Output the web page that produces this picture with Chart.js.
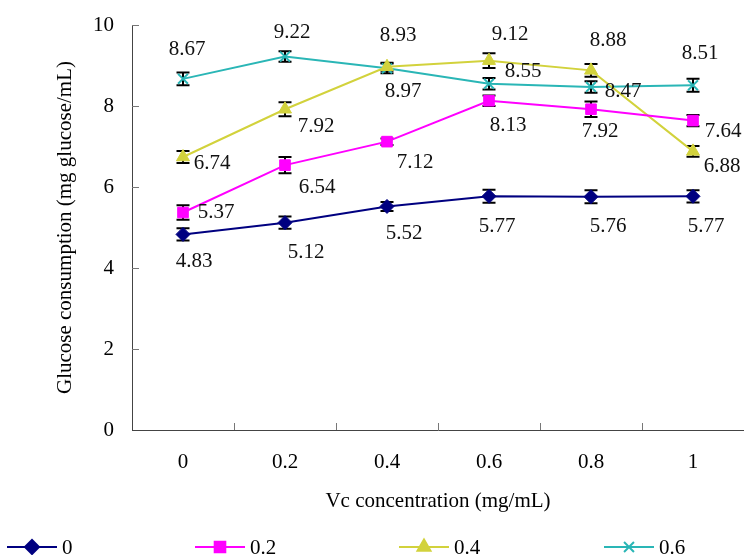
<!DOCTYPE html>
<html lang="en">
<head>
    <meta charset="UTF-8">
    <title>Glucose consumption vs Vc concentration</title>
    <script src="https://cdn.jsdelivr.net/npm/chart.js"></script>
    <style>
        body { margin: 0; background: #fff; }
        #wrap { width: 744px; height: 555px; }
    </style>
</head>
<body>
    <div id="wrap"><canvas id="glucoseChart" width="744" height="555"></canvas></div>

    <script>
        // Datos
        const categories = ['0', '0.2', '0.4', '0.6', '0.8', '1'];
        const seriesNames = ['0', '0.2', '0.4', '0.6'];

        const glucose0  = [4.83, 5.12, 5.52, 5.77, 5.76, 5.77];
        const glucose02 = [5.37, 6.54, 7.12, 8.13, 7.92, 7.64];
        const glucose04 = [6.74, 7.92, 8.97, 9.12, 8.88, 6.88];
        const glucose06 = [8.67, 9.22, 8.93, 8.55, 8.47, 8.51];

        // barras de error (+/-)
        const err0  = [0.15, 0.15, 0.11, 0.16, 0.16, 0.15];
        const err02 = [0.18, 0.20, 0.08, 0.13, 0.19, 0.14];
        const err04 = [0.15, 0.17, 0.10, 0.18, 0.16, 0.13];
        const err06 = [0.16, 0.13, 0.12, 0.14, 0.14, 0.16];

        const yMin = 0, yMax = 10, yStep = 2;

        // desplazamiento de cada etiqueta respecto a su punto (px)
        const labelShift = [
            [[11, 27], [21, 30], [17, 27], [8, 30], [17, 30], [13, 30]],
            [[33, 0], [32, 22], [28, 21], [19, 25], [9, 22], [30, 11]],
            [[29, 6], [31, 17], [16, 25], [21, -26], [17, -30], [29, 15]],
            [[4, -29], [7, -24], [11, -33], [34, -12], [32, 5], [7, -32]]
        ];

        const FONT = "'Liberation Serif', 'Times New Roman', serif";
        const FSIZE = 21;
        Chart.defaults.font.family = FONT;
        Chart.defaults.font.size = FSIZE;
        Chart.defaults.color = '#000';

        const values = [glucose0, glucose02, glucose04, glucose06];
        const errors = [err0, err02, err04, err06];
        const colors = ['#000080', '#ff00ff', '#d2d23c', '#2ab6b6'];
        const styles = ['rectRot', 'rect', 'triangle', 'crossRot'];
        const radii = [7, 7.5, 7.5, 7];

        const datasets = seriesNames.map((name, i) => ({
            label: name,
            data: values[i],
            borderColor: colors[i],
            backgroundColor: colors[i],
            borderWidth: 2,
            pointStyle: styles[i],
            pointRadius: radii[i],
            pointHoverRadius: radii[i],
            pointBorderWidth: i === 3 ? 2 : 1,
            tension: 0
        }));

        // barras de error, marcas internas, etiquetas y leyenda
        const extras = {
            id: 'extras',
            beforeDatasetsDraw(chart) {
                const ctx = chart.ctx;
                const x = chart.scales.x, y = chart.scales.y;
                const area = chart.chartArea;
                ctx.save();
                // marcas hacia dentro
                ctx.strokeStyle = '#777';
                ctx.lineWidth = 1;
                ctx.beginPath();
                for (let v = yMin + yStep; v <= yMax; v += yStep) {
                    const py = Math.round(y.getPixelForValue(v)) + 0.5;
                    ctx.moveTo(area.left, py);
                    ctx.lineTo(area.left + 7, py);
                }
                for (let i = 1; i < categories.length; i++) {
                    const px = Math.round((x.getPixelForValue(i - 1) + x.getPixelForValue(i)) / 2) + 0.5;
                    ctx.moveTo(px, area.bottom);
                    ctx.lineTo(px, area.bottom - 7);
                }
                ctx.stroke();

                // barras de error
                ctx.strokeStyle = '#000';
                ctx.lineWidth = 2;
                chart.data.datasets.forEach((ds, d) => {
                    const meta = chart.getDatasetMeta(d);
                    meta.data.forEach((pt, i) => {
                        const top = y.getPixelForValue(ds.data[i] + errors[d][i]);
                        const bot = y.getPixelForValue(ds.data[i] - errors[d][i]);
                        ctx.beginPath();
                        ctx.moveTo(pt.x, top); ctx.lineTo(pt.x, bot);
                        ctx.moveTo(pt.x - 6.5, top); ctx.lineTo(pt.x + 6.5, top);
                        ctx.moveTo(pt.x - 6.5, bot); ctx.lineTo(pt.x + 6.5, bot);
                        ctx.stroke();
                    });
                });
                ctx.restore();
            },
            afterDatasetsDraw(chart) {
                const ctx = chart.ctx;
                ctx.save();
                ctx.font = FSIZE + 'px ' + FONT;
                ctx.fillStyle = '#111';
                ctx.textAlign = 'center';
                ctx.textBaseline = 'middle';
                chart.data.datasets.forEach((ds, d) => {
                    chart.getDatasetMeta(d).data.forEach((pt, i) => {
                        const s = labelShift[d][i];
                        ctx.fillText(ds.data[i].toFixed(2), pt.x + s[0], pt.y + s[1]);
                    });
                });

                // leyenda
                const legendX = [7, 195, 399, 604];
                const ly = 547;
                ctx.textAlign = 'left';
                chart.data.datasets.forEach((ds, d) => {
                    const x0 = legendX[d];
                    ctx.strokeStyle = ds.borderColor;
                    ctx.fillStyle = ds.backgroundColor;
                    ctx.lineWidth = 2;
                    ctx.beginPath();
                    ctx.moveTo(x0, ly); ctx.lineTo(x0 + 50, ly);
                    ctx.stroke();
                    Chart.helpers.drawPoint(ctx, {
                        pointStyle: ds.pointStyle,
                        radius: ds.pointRadius,
                        borderWidth: ds.pointBorderWidth,
                        rotation: 0
                    }, x0 + 25, ly);
                    ctx.fillStyle = '#000';
                    ctx.fillText(ds.label, x0 + 55, ly + 1);
                });
                ctx.restore();
            }
        };

        new Chart(document.getElementById('glucoseChart'), {
            type: 'line',
            data: { labels: categories, datasets: datasets },
            options: {
                responsive: false,
                animation: false,
                layout: { autoPadding: false, padding: { top: 25, right: 0, bottom: 0, left: 0 } },
                plugins: { legend: { display: false }, tooltip: { enabled: false } },
                scales: {
                    x: {
                        offset: true,
                        grid: { display: false, drawTicks: false },
                        border: { display: true, color: '#444', width: 1 },
                        ticks: { padding: 20 },
                        title: {
                            display: true,
                            text: 'Vc concentration (mg/mL)',
                            padding: { top: 0, bottom: 41 }
                        },
                        afterFit(scale) {
                            scale.height = 125;
                            scale.paddingLeft = 0;
                            scale.paddingRight = 0;
                        }
                    },
                    y: {
                        min: yMin,
                        max: yMax,
                        grid: { display: false, drawTicks: false },
                        border: { display: true, color: '#444', width: 1 },
                        ticks: { stepSize: yStep, padding: 18 },
                        title: {
                            display: true,
                            text: 'Glucose consumption (mg glucose/mL)',
                            padding: { top: 53, bottom: 0 }
                        },
                        afterFit(scale) {
                            scale.width = 132;
                            scale.paddingTop = 0;
                            scale.paddingBottom = 0;
                        }
                    }
                }
            },
            plugins: [extras]
        });
    </script>
</body>
</html>
